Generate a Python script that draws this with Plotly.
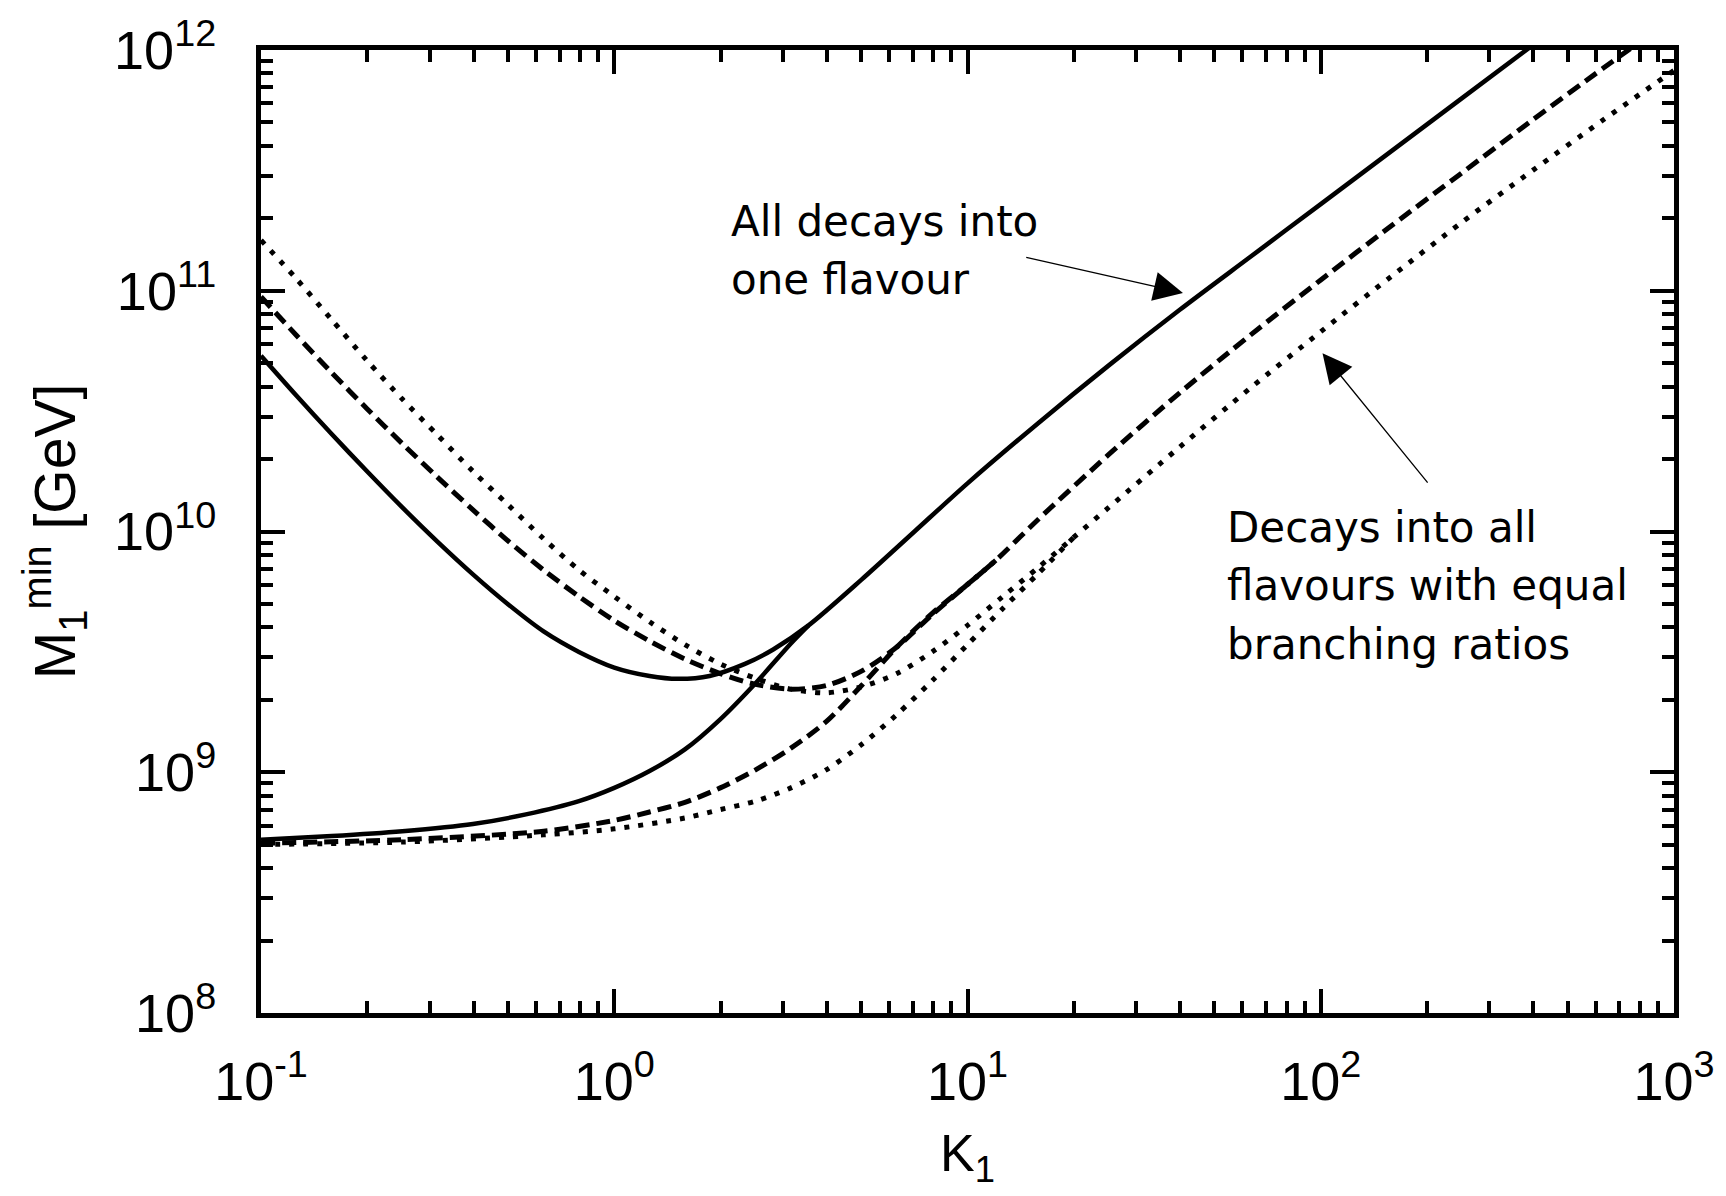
import numpy as np
import plotly.graph_objects as go

# ---- data (log10 K_1, log10 M_1^min/GeV) ----
# all decays into one flavour (solid)
solid_up_logK = [-1.0, -0.9, -0.8, -0.7, -0.6, -0.5, -0.4, -0.3, -0.2, -0.1, 0.0, 0.1, 0.18, 0.27, 0.37, 0.45, 0.55,
                 0.7, 0.85, 1.0, 1.2, 1.4, 1.6, 1.8, 2.0, 2.2, 2.4, 2.6]
solid_up_logM = [10.73, 10.565, 10.405, 10.25, 10.10, 9.957, 9.822, 9.697, 9.585, 9.50, 9.435, 9.40, 9.388, 9.40,
                 9.45, 9.51, 9.61,
                 9.80, 10.00, 10.20, 10.45, 10.69, 10.92, 11.14, 11.36, 11.58, 11.80, 12.02]
solid_low_logK = [-1.0, -0.8, -0.6, -0.4, -0.25, -0.1, 0.0, 0.1, 0.2, 0.3, 0.4, 0.5, 0.55]
solid_low_logM = [8.72, 8.735, 8.755, 8.785, 8.825, 8.88, 8.935, 9.005, 9.095, 9.22, 9.37, 9.535, 9.61]

# decays into all flavours with equal branching ratios (dashed)
dash_up_logK = [-1.0, -0.9, -0.8, -0.7, -0.6, -0.5, -0.4, -0.3, -0.2, -0.1, 0.0, 0.1, 0.2, 0.3, 0.4, 0.5, 0.6, 0.7,
                0.8, 0.9, 1.0, 1.08, 1.2, 1.4, 1.6, 1.8, 2.0, 2.2, 2.4, 2.6, 2.8, 2.9]
dash_up_logM = [10.975, 10.815, 10.66, 10.51, 10.365, 10.225, 10.09, 9.96, 9.84, 9.73, 9.63, 9.545, 9.47, 9.41,
                9.365, 9.345, 9.36, 9.42, 9.52, 9.655, 9.78, 9.88, 10.05, 10.32, 10.575, 10.815, 11.045, 11.27,
                11.49, 11.71, 11.925, 12.03]
dash_low_logK = [-1.0, -0.6, -0.2, 0.0, 0.1, 0.2, 0.3, 0.4, 0.5, 0.6, 0.7, 0.8, 0.9, 1.0, 1.08]
dash_low_logM = [8.705, 8.72, 8.755, 8.80, 8.835, 8.875, 8.935, 9.01, 9.10, 9.21, 9.36, 9.52, 9.66, 9.78, 9.88]

# third case (dotted)
dot_up_logK = [-1.0, -0.9, -0.8, -0.7, -0.6, -0.5, -0.4, -0.3, -0.2, -0.1, 0.0, 0.1, 0.2, 0.3, 0.4, 0.5, 0.6, 0.7,
               0.8, 0.9, 1.0, 1.1, 1.2, 1.3, 1.4, 1.6, 1.8, 2.0, 2.2, 2.4, 2.6, 2.8, 3.0]
dot_up_logM = [11.21, 11.05, 10.88, 10.71, 10.55, 10.40, 10.25, 10.11, 9.97, 9.84, 9.73, 9.625, 9.53, 9.45, 9.39,
               9.345, 9.33, 9.355, 9.41, 9.50, 9.61, 9.73, 9.85, 9.975, 10.10, 10.35, 10.595, 10.83, 11.06,
               11.285, 11.50, 11.71, 11.915]
dot_low_logK = [-1.0, -0.6, -0.2, 0.0, 0.2, 0.3, 0.4, 0.5, 0.6, 0.7, 0.8, 0.9, 1.0, 1.1, 1.2, 1.3]
dot_low_logM = [8.70, 8.71, 8.74, 8.765, 8.81, 8.845, 8.88, 8.935, 9.01, 9.115, 9.24, 9.38, 9.53, 9.68, 9.825, 9.975]

x_tickvals = [0.1, 1, 10, 100, 1000]
x_ticktext = ["10<sup>-1</sup>", "10<sup>0</sup>", "10<sup>1</sup>", "10<sup>2</sup>", "10<sup>3</sup>"]
y_tickvals = [1e8, 1e9, 1e10, 1e11, 1e12]
y_ticktext = ["10<sup>8</sup>", "10<sup>9</sup>", "10<sup>10</sup>", "10<sup>11</sup>", "10<sup>12</sup>"]

x_minor = [m * 10.0 ** e for e in range(-1, 3) for m in range(2, 10)]
y_minor = [m * 10.0 ** e for e in range(8, 12) for m in range(2, 10)]


def pw(v):
    return [10.0 ** a for a in v]


styles = {
    "solid": dict(color="black", width=4.5),
    "dash": dict(color="black", width=5, dash="14px,7px"),
    "dot": dict(color="black", width=5, dash="5px,9px"),
}

fig = go.Figure()
for kx, my, st in [
    (solid_up_logK, solid_up_logM, "solid"), (solid_low_logK, solid_low_logM, "solid"),
    (dash_up_logK, dash_up_logM, "dash"), (dash_low_logK, dash_low_logM, "dash"),
    (dot_up_logK, dot_up_logM, "dot"), (dot_low_logK, dot_low_logM, "dot"),
]:
    fig.add_trace(go.Scatter(x=pw(kx), y=pw(my), mode="lines",
                             line=dict(shape="spline", smoothing=0.8, **styles[st]),
                             showlegend=False, hoverinfo="skip"))

tickfont = dict(family="Liberation Sans, Arial, sans-serif", size=54, color="black")
xtitlefont = dict(family="Liberation Sans, Arial, sans-serif", size=52, color="black")
ytitlefont = dict(family="Liberation Sans, Arial, sans-serif", size=57, color="black")

common = dict(type="log", showline=True, linewidth=5, linecolor="black", mirror="ticks",
              ticks="inside", ticklen=24, tickwidth=3.5, tickcolor="black", showgrid=False,
              zeroline=False, tickmode="array", tickfont=tickfont)

fig.update_xaxes(range=[-1, 3], tickvals=x_tickvals, ticktext=x_ticktext, ticklabelstandoff=17,
                 minor=dict(ticks="inside", ticklen=12, tickwidth=3.5, tickcolor="black",
                            tickmode="array", tickvals=x_minor, showgrid=False),
                 title=dict(text="K<sub>1</sub>", font=xtitlefont, standoff=26), **common)
fig.update_yaxes(range=[8, 12], tickvals=y_tickvals, ticktext=y_ticktext, ticklabelstandoff=29,
                 minor=dict(ticks="inside", ticklen=12, tickwidth=3.5, tickcolor="black",
                            tickmode="array", tickvals=y_minor, showgrid=False),
                 title=dict(text="M<sub>1</sub><sup>min</sup> [GeV]", font=ytitlefont, standoff=22), **common)

annfont = dict(family="DejaVu Sans, Verdana, sans-serif", size=42, color="black")
line_step = 0.243  # one text line, in decades of the y axis
text1_lines = ["All decays into", "one flavour"]
text2_lines = ["Decays into all", "flavours with equal", "branching ratios"]
for i, t in enumerate(text1_lines):
    fig.add_annotation(x=0.325, y=11.398 - i * line_step, xref="x", yref="y", xanchor="left", yanchor="top",
                       text=t, showarrow=False, align="left", font=annfont)
for i, t in enumerate(text2_lines):
    fig.add_annotation(x=1.729, y=10.127 - i * line_step, xref="x", yref="y", xanchor="left", yanchor="top",
                       text=t, showarrow=False, align="left", font=annfont)
# arrows
fig.add_annotation(x=1.610, y=10.991, ax=1.162, ay=11.14, xref="x", yref="y", axref="x", ayref="y",
                   text="", showarrow=True, arrowhead=2, arrowsize=4.5, arrowwidth=1.3, arrowcolor="black")
fig.add_annotation(x=2.005, y=10.740, ax=2.306, ay=10.197, xref="x", yref="y", axref="x", ayref="y",
                   text="", showarrow=True, arrowhead=2, arrowsize=4.5, arrowwidth=1.3, arrowcolor="black")

fig.update_layout(width=1726, height=1196, margin=dict(l=261, r=52, t=50, b=183),
                  paper_bgcolor="white", plot_bgcolor="white")
fig.write_html("out.html")
